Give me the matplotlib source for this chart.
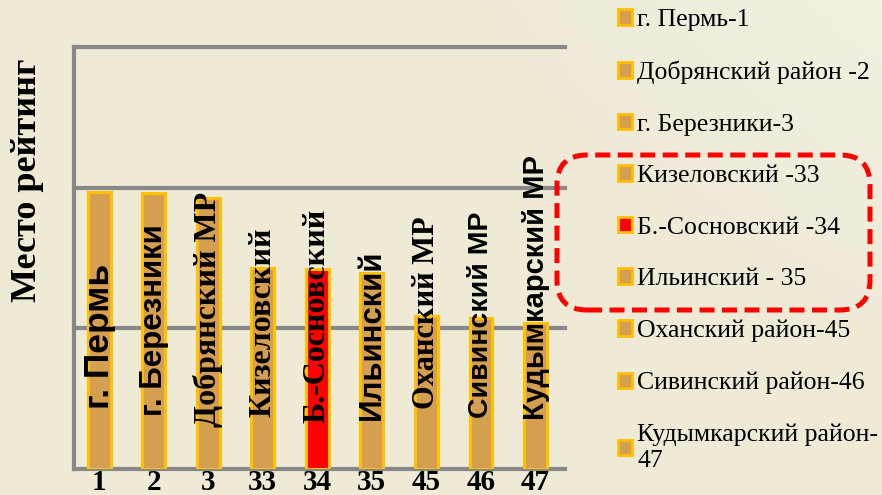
import matplotlib
matplotlib.use('Agg')
from matplotlib import pyplot as plt
from matplotlib.patches import Patch, FancyBboxPatch
import numpy as np

# данные
districts = ['г. Пермь', 'г. Березники', 'Добрянский МР', 'Кизеловский', 'Б.-Сосновский',
             'Ильинский', 'Оханский МР', 'Сивинский МР', 'Кудымкарский МР']
ranks = ['1', '2', '3', '33', '34', '35', '45', '46', '47']
values = [1.97, 1.96, 1.93, 1.43, 1.42, 1.39, 1.09, 1.07, 1.04]
legend_labels = ['г. Пермь-1', 'Добрянский район -2', 'г. Березники-3', 'Кизеловский -33',
                 'Б.-Сосновский -34', 'Ильинский - 35', 'Оханский район-45',
                 'Сивинский район-46', 'Кудымкарский район-\n47']

# оформление подписей в столбцах
label_bottom = [0.43, 0.38, 0.30, 0.37, 0.33, 0.35, 0.43, 0.36, 0.35]
label_serif = [False, False, True, True, True, False, True, False, False]
label_size = [25.5, 22.5, 23, 23, 23, 22.5, 22, 20.5, 21]

bg = '#EEEAD6'
tan = '#D49F50'
edge = '#FFC000'
colors = [tan] * 9
colors[4] = '#FF0000'

fig = plt.figure(figsize=(8.82, 4.95), dpi=100, facecolor=bg)

# фон с лёгким градиентом
bg_ax = fig.add_axes([0, 0, 1, 1], zorder=-1)
grad = np.linspace(0, 1, 200)[None, :] * np.linspace(0.3, 1, 100)[:, None]
bg_ax.imshow(grad, aspect='auto', origin='lower', extent=[0, 1, 0, 1],
             cmap=matplotlib.colors.LinearSegmentedColormap.from_list('bg', [bg, bg, '#F4F0E2']))
bg_ax.axis('off')

ax = fig.add_axes([74 / 882, 1 - 469 / 495, 491 / 882, 422 / 495])
ax.set_facecolor('none')

ax.bar(range(len(values)), values, width=0.42, color=colors, edgecolor=edge, linewidth=2.2, zorder=3)
ax.set_xlim(-0.46, 8.54)
ax.set_ylim(0, 3)
ax.set_yticks([0, 1, 2, 3])
ax.set_yticklabels([])
ax.tick_params(axis='y', length=0)
ax.tick_params(axis='x', length=0, pad=0)
ax.set_xticks(range(len(ranks)), ranks, fontfamily='Liberation Serif', fontweight='bold', fontsize=21)
ax.grid(axis='y', color='#888888', linewidth=3, clip_on=False)
ax.set_axisbelow(True)
for s in ['top', 'right', 'bottom']:
    ax.spines[s].set_visible(False)
ax.spines['left'].set_color('#888888')
ax.spines['left'].set_linewidth(3)

for i, name in enumerate(districts):
    fam = 'Liberation Serif' if label_serif[i] else 'Liberation Sans'
    ax.text(i, label_bottom[i], name, rotation=90, ha='center', va='bottom',
            fontfamily=fam, fontweight='bold', fontsize=label_size[i], zorder=4)

fig.text(28 / 882, 1 - 180 / 495, 'Место рейтинг', rotation=90, ha='center', va='center',
         fontfamily='Liberation Serif', fontweight='bold', fontsize=26)

# легенда
handles = [Patch(facecolor=c, edgecolor=edge, linewidth=2) for c in colors]
handles = [handles[0], handles[2], handles[1]] + handles[3:]
fig.legend(handles, legend_labels, loc='upper left', bbox_to_anchor=(618 / 882, 1 - 9 / 495),
           frameon=False, borderpad=0, borderaxespad=0, handlelength=0.55, handleheight=0.55,
           handletextpad=0.2, labelspacing=1.15,
           prop={'family': 'Liberation Serif', 'size': 18.5})

# красная рамка
frame = FancyBboxPatch((5.57, 1.85), 3.13, 1.55, boxstyle='round,pad=0,rounding_size=0.3',
                       transform=fig.dpi_scale_trans, facecolor='none', edgecolor='#FF0000',
                       linewidth=3.6, linestyle=(0, (3, 1.5)))
fig.patches.append(frame)

plt.savefig('out.png', dpi=100, facecolor=bg)
